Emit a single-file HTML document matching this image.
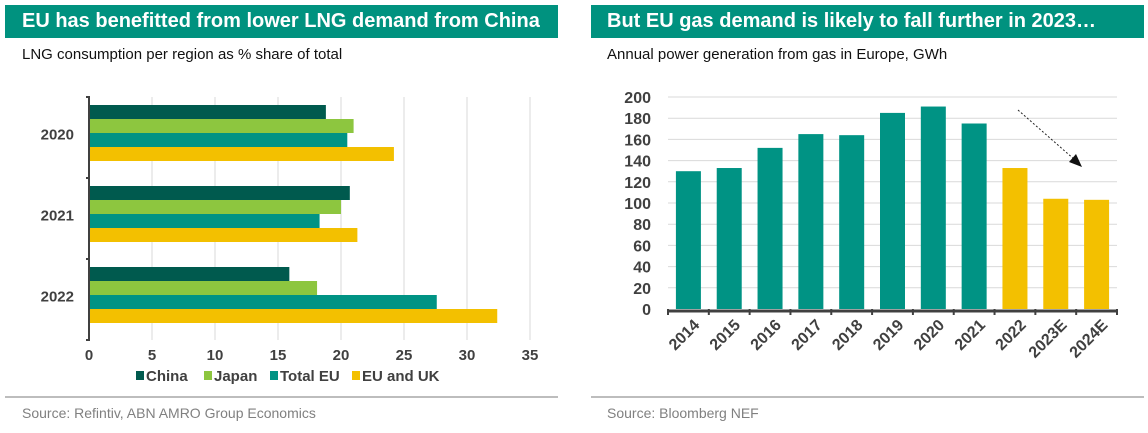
<!DOCTYPE html>
<html><head><meta charset="utf-8"><style>
body{margin:0;width:1148px;height:433px;background:#fff;font-family:"Liberation Sans",Arial,sans-serif;overflow:hidden;position:relative}
.hdr{position:absolute;top:5px;height:33px;background:#00927f;color:#fff;font-weight:bold;font-size:20px;line-height:33px;white-space:nowrap;overflow:hidden}
.sub{position:absolute;top:46px;font-size:15px;color:#111}
.rule{position:absolute;top:396px;height:2px;background:#bdbdbd}
.src{position:absolute;top:405px;font-size:14px;color:#808080}
svg{position:absolute;left:0;top:0}
</style></head><body>
<div class="hdr" style="left:5px;width:553px;padding-left:17px;box-sizing:border-box">EU has benefitted from lower LNG demand from China</div>
<div class="sub" style="left:22px">LNG consumption per region as % share of total</div>
<div class="rule" style="left:5px;width:553px"></div>
<div class="src" style="left:22px">Source: Refintiv, ABN AMRO Group Economics</div>
<div class="hdr" style="left:591px;width:553px;padding-left:16px;box-sizing:border-box">But EU gas demand is likely to fall further in 2023…</div>
<div class="sub" style="left:607px">Annual power generation from gas in Europe, GWh</div>
<div class="rule" style="left:591px;width:553px"></div>
<div class="src" style="left:607px">Source: Bloomberg NEF</div>
<svg id="c" width="1148" height="433"></svg>
<script>
const years=["2020","2021","2022"];
const seriesNames=["China","Japan","Total EU","EU and UK"];
const china=[18.8,20.7,15.9];
const japan=[21.0,20.0,18.1];
const totalEU=[20.5,18.3,27.6];
const euUK=[24.2,21.3,32.4];
const xTicks=[0,5,10,15,20,25,30,35];
const cats=["2014","2015","2016","2017","2018","2019","2020","2021","2022","2023E","2024E"];
const gen=[130,133,152,165,164,185,191,175,133,104,103];
const yTicks=[0,20,40,60,80,100,120,140,160,180,200];

const NS="http://www.w3.org/2000/svg",svg=document.getElementById('c');
function mk(t,a,txt){const e=document.createElementNS(NS,t);for(const k in a)e.setAttribute(k,a[k]);if(txt!==undefined)e.textContent=txt;svg.appendChild(e);return e;}
const cols=["#005a4e","#8dc63f","#009384","#f3c000"];
const data=[china,japan,totalEU,euUK];
// left
const x0=89,x1=530,pTop=97,pBot=340;
const xs=v=>x0+v/35*(x1-x0);
const band=(pBot-pTop)/years.length;
xTicks.forEach(t=>{
 if(t>0){const g=mk('line',{x1:xs(t),x2:xs(t),y1:pTop,y2:pBot,stroke:'#d9d9d9','stroke-width':1});}
 const l=mk('text',{x:xs(t),y:360,'text-anchor':'middle','font-size':15,'font-weight':'bold',fill:'#404040'},t);
 
});
years.forEach((y,i)=>{
 const bt=pTop+i*band+8,bh=14;
 data.forEach((s,j)=>{
  const r=mk('rect',{x:x0,y:bt+j*bh,width:xs(s[i])-x0,height:bh,fill:cols[j]});
  
  
 });
 const l=mk('text',{x:74,y:pTop+i*band+band/2+2,'text-anchor':'end','font-size':15,'font-weight':'bold',fill:'#404040'},y);
 
});
const ax=mk('path',{d:`M86 ${pTop}H89V${pBot}H86`,stroke:'#404040','stroke-width':2,fill:'none'});

for(let i=1;i<years.length;i++){const t=mk('line',{x1:86,x2:89,y1:pTop+i*band,y2:pTop+i*band,stroke:'#404040','stroke-width':2});}
const lx=[136,204,270,352];
seriesNames.forEach((n,j)=>{
 const s=mk('rect',{x:lx[j],y:371,width:8,height:9,fill:cols[j]});
 
 const t=mk('text',{x:lx[j]+10,y:381,'font-size':15,'font-weight':'bold',fill:'#404040'},n);
 
});
// right
const rx0=668,rx1=1117,ry0=309,ry1=97;
const ys=v=>ry0-v/200*(ry0-ry1);
const cw=(rx1-rx0)/cats.length;
yTicks.forEach(t=>{
 if(t>0){const g=mk('line',{x1:rx0,x2:rx1,y1:ys(t),y2:ys(t),stroke:'#d9d9d9','stroke-width':1});}
 const l=mk('text',{x:651,y:ys(t)+6,'text-anchor':'end','font-size':16,'font-weight':'bold',fill:'#404040'},t);
 
});
cats.forEach((c,i)=>{
 const bw=25,bx=rx0+i*cw+(cw-bw)/2;
 const r=mk('rect',{x:bx,y:ys(gen[i]),width:bw,height:ys(0)-ys(gen[i]),fill:i>=8?'#f3c000':'#009384'});
 
 const cx=rx0+i*cw+cw/2+12,cy=326;
 const l=mk('text',{x:cx,y:cy,'text-anchor':'end','font-size':16,'font-weight':'bold',fill:'#404040',transform:`rotate(-45 ${cx} ${cy})`},c);
 
});
const xa=mk('line',{x1:rx0,x2:rx1,y1:ry0+2,y2:ry0+2,stroke:'#404040','stroke-width':3});

for(let i=0;i<=cats.length;i++){const t=mk('line',{x1:rx0+i*cw,x2:rx0+i*cw,y1:ry0,y2:ry0+6,stroke:'#404040','stroke-width':2});}
const ar=mk('line',{x1:1018,y1:110,x2:1075,y2:160,stroke:'#222','stroke-width':1,'stroke-dasharray':'2,2'});

const ah=mk('polygon',{points:'1082,167 1069,162 1076,154',fill:'#111'});

</script>
</body></html>
